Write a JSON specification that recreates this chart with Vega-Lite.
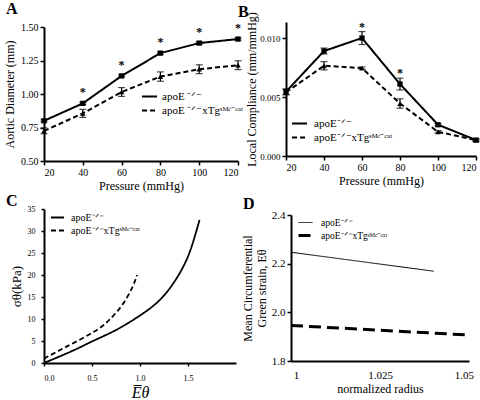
{
  "$schema": "https://vega.github.io/schema/vega-lite/v6.json",
  "background": "white",
  "padding": {"left": 3, "top": 1, "right": 0, "bottom": 0},
  "config": {
    "view": {"stroke": null},
    "axis": {"domainColor": "black", "domainWidth": 2, "tickColor": "black", "tickWidth": 1.5, "tickSize": 4, "labelColor": "black", "titleColor": "black", "labelFont": "Liberation Serif", "titleFont": "Liberation Serif", "titleFontWeight": "normal", "grid": false, "labelFontSize": 10, "titleFontSize": 12, "labelPadding": 2, "titlePadding": 4},
    "legend": {"labelFont": "Liberation Serif", "labelColor": "black", "symbolStrokeColor": "black", "padding": 0},
    "title": {"font": "Liberation Serif", "fontWeight": "bold", "fontSize": 16, "anchor": "start", "frame": "group", "color": "black", "baseline": "alphabetic"}
  },
  "datasets": {
    "A": [
      {"p": 20, "g": "WT", "mean": 0.80, "err": 0.008, "sig": 0},
      {"p": 40, "g": "WT", "mean": 0.93, "err": 0.008, "sig": 1},
      {"p": 60, "g": "WT", "mean": 1.135, "err": 0.008, "sig": 1},
      {"p": 80, "g": "WT", "mean": 1.305, "err": 0.008, "sig": 1},
      {"p": 100, "g": "WT", "mean": 1.38, "err": 0.008, "sig": 1},
      {"p": 120, "g": "WT", "mean": 1.41, "err": 0.008, "sig": 1},
      {"p": 20, "g": "Tg", "mean": 0.725, "err": 0.022, "sig": 0},
      {"p": 40, "g": "Tg", "mean": 0.855, "err": 0.03, "sig": 0},
      {"p": 60, "g": "Tg", "mean": 1.015, "err": 0.033, "sig": 0},
      {"p": 80, "g": "Tg", "mean": 1.13, "err": 0.035, "sig": 0},
      {"p": 100, "g": "Tg", "mean": 1.185, "err": 0.033, "sig": 0},
      {"p": 120, "g": "Tg", "mean": 1.215, "err": 0.033, "sig": 0}
    ],
    "B": [
      {"p": 20, "g": "WT", "mean": 0.00545, "err": 0.00025, "sig": 0},
      {"p": 40, "g": "WT", "mean": 0.0089, "err": 0.00025, "sig": 0},
      {"p": 60, "g": "WT", "mean": 0.0100, "err": 0.00055, "sig": 1},
      {"p": 80, "g": "WT", "mean": 0.0061, "err": 0.0005, "sig": 1},
      {"p": 100, "g": "WT", "mean": 0.00265, "err": 0.0001, "sig": 0},
      {"p": 120, "g": "WT", "mean": 0.00135, "err": 0.0001, "sig": 0},
      {"p": 20, "g": "Tg", "mean": 0.0054, "err": 0.0002, "sig": 0},
      {"p": 40, "g": "Tg", "mean": 0.00765, "err": 0.00035, "sig": 0},
      {"p": 60, "g": "Tg", "mean": 0.00745, "err": 0.0001, "sig": 0},
      {"p": 80, "g": "Tg", "mean": 0.00445, "err": 0.0004, "sig": 0},
      {"p": 100, "g": "Tg", "mean": 0.00205, "err": 0.0001, "sig": 0},
      {"p": 120, "g": "Tg", "mean": 0.00135, "err": 0.0001, "sig": 0}
    ],
    "C": [
      {"e": 0.0, "s": 0.0, "g": "WT"},
      {"e": 0.3, "s": 2.8, "g": "WT"},
      {"e": 0.52, "s": 5.1, "g": "WT"},
      {"e": 0.75, "s": 7.5, "g": "WT"},
      {"e": 1.0, "s": 10.8, "g": "WT"},
      {"e": 1.2, "s": 14.2, "g": "WT"},
      {"e": 1.35, "s": 18.2, "g": "WT"},
      {"e": 1.46, "s": 22.3, "g": "WT"},
      {"e": 1.54, "s": 26.6, "g": "WT"},
      {"e": 1.62, "s": 32.5, "g": "WT"},
      {"e": 0.0, "s": 1.0, "g": "Tg"},
      {"e": 0.225, "s": 3.6, "g": "Tg"},
      {"e": 0.52, "s": 7.1, "g": "Tg"},
      {"e": 0.68, "s": 9.8, "g": "Tg"},
      {"e": 0.815, "s": 13.2, "g": "Tg"},
      {"e": 0.92, "s": 17.2, "g": "Tg"},
      {"e": 0.97, "s": 20.0, "g": "Tg"}
    ],
    "D": [
      {"r": 0.9985, "strain": 2.247, "g": "WT"},
      {"r": 1.041, "strain": 2.169, "g": "WT"},
      {"r": 0.9985, "strain": 1.946, "g": "Tg"},
      {"r": 1.0513, "strain": 1.907, "g": "Tg"}
    ]
  },
  "spacing": 2,
  "resolve": {"scale": {"strokeDash": "independent", "strokeWidth": "independent"}, "legend": {"strokeDash": "independent"}},
  "vconcat": [
    {
      "spacing": -8,
      "resolve": {"scale": {"strokeDash": "independent"}, "legend": {"strokeDash": "independent"}},
      "hconcat": [
        {
          "width": 194, "height": 134,
          "title": {"text": "A", "dx": -38, "offset": 5},
          "data": {"name": "A"},
          "encoding": {
            "x": {"field": "p", "type": "quantitative", "scale": {"domain": [20, 120]}, "axis": {"values": [20, 40, 60, 80, 100, 120], "title": "Pressure (mmHg)", "titlePadding": 3}},
            "y": {"field": "mean", "type": "quantitative", "scale": {"domain": [0.5, 1.5], "zero": false}, "axis": {"values": [0.5, 0.75, 1, 1.25, 1.5], "format": ".2f", "title": "Aortic Diameter (mm)"}}
          },
          "layer": [
            {
              "mark": {"type": "line", "color": "black", "strokeWidth": 2},
              "encoding": {
                "strokeDash": {"field": "g", "type": "nominal", "scale": {"domain": ["WT", "Tg"], "range": [[1, 0], [5, 3]]},
                  "legend": {"title": null, "orient": "none", "legendX": 97, "legendY": 61, "symbolType": "stroke", "symbolSize": 225, "symbolStrokeWidth": 2, "labelFontSize": 11, "labelOffset": 4, "rowPadding": 0,
                    "labelExpr": "datum.value == 'WT' ? 'apoE ⁻ᐟ⁻' : 'apoE ⁻ᐟ⁻xTgˢᴹᶜ⁻ᶜᵃᵗ'",
                    "encode": {"symbols": {"update": {"strokeDash": {"signal": "datum.value == 'Tg' ? [3.5, 2.5] : [1, 0]"}}}}}}
              }
            },
            {
              "transform": [{"filter": "datum.g == 'WT'"}],
              "mark": {"type": "point", "shape": "square", "filled": true, "color": "black", "opacity": 1, "size": 28}
            },
            {
              "transform": [{"filter": "datum.g == 'Tg'"}],
              "mark": {"type": "point", "shape": "triangle-up", "filled": true, "color": "black", "opacity": 1, "size": 30}
            },
            {
              "mark": {"type": "errorbar", "color": "black", "thickness": 1.2, "ticks": {"size": 7, "thickness": 1.2}},
              "encoding": {"yError": {"field": "err"}}
            },
            {
              "transform": [{"filter": "datum.sig == 1"}],
              "mark": {"type": "text", "text": "*", "fontSize": 12, "fontWeight": "bold", "font": "Liberation Serif", "baseline": "middle", "dy": -11, "color": "black"}
            }
          ]
        },
        {
          "width": 190, "height": 129,
          "title": {"text": "B", "dx": -48, "offset": -8},
          "data": {"name": "B"},
          "encoding": {
            "x": {"field": "p", "type": "quantitative", "scale": {"domain": [20, 120]}, "axis": {"values": [20, 40, 60, 80, 100, 120], "title": "Pressure (mmHg)", "titlePadding": 3}},
            "y": {"field": "mean", "type": "quantitative", "scale": {"domain": [0, 0.01136], "range": [129, -5]}, "axis": {"values": [0, 0.005, 0.01], "format": ".3f", "labelFontSize": 9, "title": "Local Compliance (mm/mmHg)", "titlePadding": 1}}
          },
          "layer": [
            {
              "mark": {"type": "line", "color": "black", "strokeWidth": 2},
              "encoding": {
                "strokeDash": {"field": "g", "type": "nominal", "scale": {"domain": ["WT", "Tg"], "range": [[1, 0], [5, 3]]},
                  "legend": {"title": null, "orient": "none", "legendX": 5, "legendY": 88, "symbolType": "stroke", "symbolSize": 225, "symbolStrokeWidth": 2, "labelFontSize": 11, "labelOffset": 6, "rowPadding": 0,
                    "labelExpr": "datum.value == 'WT' ? 'apoE⁻ᐟ⁻' : 'apoE⁻ᐟ⁻xTgˢᴹᶜ⁻ᶜᵃᵗ'",
                    "encode": {"symbols": {"update": {"strokeDash": {"signal": "datum.value == 'Tg' ? [3.5, 2.5] : [1, 0]"}}}}}}
              }
            },
            {
              "transform": [{"filter": "datum.g == 'WT'"}],
              "mark": {"type": "point", "shape": "square", "filled": true, "color": "black", "opacity": 1, "size": 28}
            },
            {
              "transform": [{"filter": "datum.g == 'Tg'"}],
              "mark": {"type": "point", "shape": "triangle-up", "filled": true, "color": "black", "opacity": 1, "size": 30}
            },
            {
              "mark": {"type": "errorbar", "color": "black", "thickness": 1.2, "ticks": {"size": 7, "thickness": 1.2}},
              "encoding": {"yError": {"field": "err"}}
            },
            {
              "transform": [{"filter": "datum.sig == 1"}],
              "mark": {"type": "text", "text": "*", "fontSize": 12, "fontWeight": "bold", "font": "Liberation Serif", "baseline": "middle", "dy": -11, "color": "black"}
            }
          ]
        }
      ]
    },
    {
      "spacing": 5,
      "resolve": {"scale": {"strokeDash": "independent", "strokeWidth": "independent"}, "legend": {"strokeDash": "independent"}},
      "hconcat": [
        {
          "width": 192, "height": 154,
          "title": {"text": "C", "dx": -38, "offset": -4},
          "data": {"name": "C"},
          "mark": {"type": "line", "color": "black", "strokeWidth": 1.8, "interpolate": "natural"},
          "encoding": {
            "x": {"field": "e", "type": "quantitative", "scale": {"domain": [0, 2]}, "axis": {"values": [0, 0.5, 1, 1.5], "labelFontSize": 8, "tickSize": 3, "labelPadding": 8, "title": "E̅θ", "titleFontSize": 16, "titleFontStyle": "italic", "titlePadding": 2}},
            "y": {"field": "s", "type": "quantitative", "scale": {"domain": [0, 35]}, "axis": {"values": [0, 5, 10, 15, 20, 25, 30, 35], "labelFontSize": 8, "tickSize": 3, "labelPadding": 6, "title": "σθ(kPa)", "titleFontSize": 13, "titlePadding": 4}},
            "strokeDash": {"field": "g", "type": "nominal", "scale": {"domain": ["WT", "Tg"], "range": [[1, 0], [5, 3]]},
              "legend": {"title": null, "orient": "none", "legendX": 6, "legendY": 1, "symbolType": "stroke", "symbolSize": 169, "symbolStrokeWidth": 2, "labelFontSize": 10, "labelOffset": 6, "rowPadding": 0,
                "labelExpr": "datum.value == 'WT' ? 'apoE⁻ᐟ⁻' : 'apoE⁻ᐟ⁻xTgˢᴹᶜ⁻ᶜᵃᵗ'",
                "encode": {"symbols": {"update": {"strokeDash": {"signal": "datum.value == 'Tg' ? [3, 2] : [1, 0]"}}}}}},
            "order": {"field": "e", "type": "quantitative"}
          }
        },
        {
          "width": 178, "height": 152,
          "title": {"text": "D", "dx": -48, "offset": -3},
          "data": {"name": "D"},
          "mark": {"type": "line", "color": "black"},
          "encoding": {
            "x": {"field": "r", "type": "quantitative", "scale": {"domain": [0.9985, 1.0515]}, "axis": {"values": [1, 1.025, 1.05], "format": ".3~f", "labelFontSize": 11, "ticks": false, "labelPadding": 8, "title": "normalized radius", "titlePadding": 3}},
            "y": {"field": "strain", "type": "quantitative", "scale": {"domain": [1.8, 2.4], "range": [152, 6]}, "axis": {"values": [1.8, 2.0, 2.2, 2.4], "format": ".1f", "labelFontSize": 11, "title": ["Mean Circumferential", "Green strain, Eθ"], "titleFontSize": 12, "titleLineHeight": 14, "titlePadding": 3}},
            "strokeDash": {"field": "g", "type": "nominal", "scale": {"domain": ["WT", "Tg"], "range": [[1, 0], [12, 6]]},
              "legend": {"title": null, "orient": "none", "legendX": 6, "legendY": 6, "symbolType": "stroke", "symbolSize": 196, "symbolStrokeWidth": 2, "labelFontSize": 9.5, "labelOffset": 7, "rowPadding": 0,
                "labelExpr": "datum.value == 'WT' ? 'apoE⁻ᐟ⁻' : 'apoE⁻ᐟ⁻xTgˢᴹᶜ⁻ᶜᵃᵗ'",
                "encode": {"symbols": {"update": {"strokeDash": {"signal": "datum.value == 'Tg' ? [4, 2] : [1, 0]"}}}}}},
            "strokeWidth": {"field": "g", "type": "nominal", "scale": {"domain": ["WT", "Tg"], "range": [1, 3]}, "legend": null}
          }
        }
      ]
    }
  ]
}
